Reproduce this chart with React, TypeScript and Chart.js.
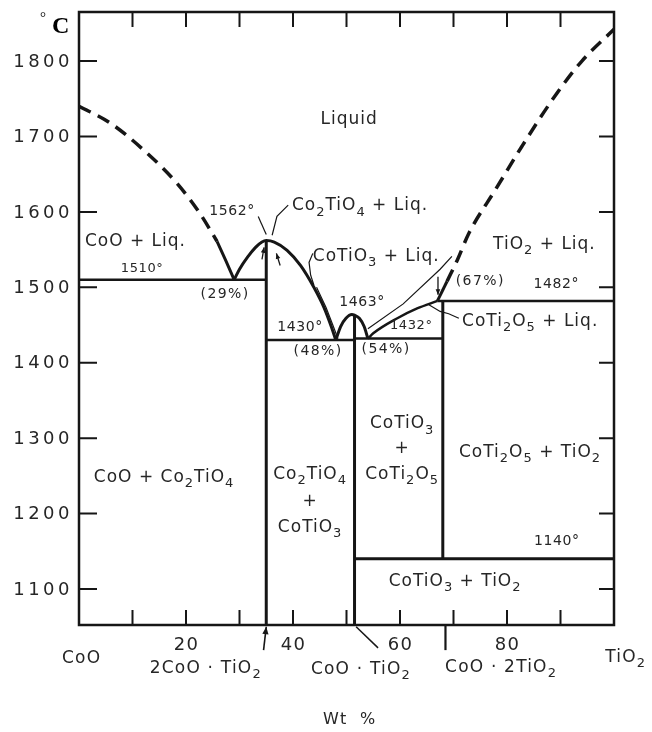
import React, { useEffect, useRef } from 'react';
import { Chart, registerables } from 'chart.js';
Chart.register(...registerables);

// ---- axes ----
const X_MIN = 0, X_MAX = 100, Y_MIN = 1052.3, Y_MAX = 1865;
const yTickValues = [1100, 1200, 1300, 1400, 1500, 1600, 1700, 1800];
const xTickValues = [10, 20, 30, 40, 50, 60, 70, 80, 90];
const xTickLabels: [number, string][] = [[20, '20'], [40, '40'], [60, '60'], [80, '80']];

// ---- phase boundaries [wt% TiO2, °C] ----
const coLiquidusDashed = [[0, 1740], [5.8, 1718], [12.7, 1678], [18.3, 1638], [22.6, 1598], [25.8, 1561]];
const coLiquidusSolid = [[25.8, 1561], [27.4, 1536], [29, 1510]];
const co2tio4Liquidus = [[29, 1510], [30, 1524], [31.5, 1540], [33, 1553], [34.2, 1560], [35, 1562], [36.5, 1560], [38.9, 1549], [41.4, 1529], [43.9, 1500], [45.8, 1473], [47.2, 1447], [48, 1430]];
const cotio3Liquidus = [[48, 1430], [48.9, 1448], [49.9, 1459], [51, 1464], [51.5, 1463], [52.4, 1459], [53.3, 1448], [54, 1432]];
const coti2o5Liquidus = [[54, 1432], [55, 1439], [59.5, 1459], [63.2, 1472], [67, 1482]];
const tio2LiquidusSolid = [[67, 1482], [68.8, 1508]];
const tio2LiquidusDashed = [[68.8, 1508], [70.7, 1536], [72.9, 1572], [77.8, 1629], [82.8, 1687], [89, 1754], [94, 1800], [100, 1842]];

const iso1510 = [[0, 1510], [35, 1510]];
const iso1430 = [[35, 1430], [51.5, 1430]];
const iso1432 = [[51.5, 1432], [68, 1432]];
const iso1482 = [[67, 1482], [100, 1482]];
const iso1140 = [[51.5, 1140], [100, 1140]];
const vertCo2TiO4 = [[35, Y_MIN], [35, 1562]];
const vertCoTiO3 = [[51.5, Y_MIN], [51.5, 1463]];
const vertCoTi2O5 = [[68, 1140], [68, 1482]];

// ---- leader lines ----
const leader1562 = [[33.5, 1594], [35, 1570]];
const leaderCo2TiO4 = [[39.1, 1609], [37, 1594], [36.1, 1569]];
const leaderCoTiO3Left = [[43.7, 1545], [43.0, 1533], [43.3, 1516], [43.9, 1503]];
const leaderCoTiO3Right = [[69.7, 1541], [67.5, 1524], [60.6, 1478], [54, 1445]];
const doubleLineLeft = [[44.4, 1500], [46.2, 1473], [47.6, 1447], [48.4, 1432]];
const leaderCoTi2O5 = [[65.4, 1477], [67.5, 1468], [69.1, 1465], [71, 1459]];
const arrowsThin = [[34.2, 1537, 34.6, 1553], [37.6, 1529, 36.9, 1545], [67.1, 1514, 67.1, 1490]];
const arrowsBelow = [[34.5, 1019, 35, 1050]];
const leadersBelow = [[[51.8, 1050], [55.9, 1022]], [[68.5, 1051], [68.5, 1019]]];

// ---- text ----
const regionLabels: [string, number, number, number, string][] = [
  ['Liquid', 50.5, 1724, 17, 'center'],
  ['CoO + Liq.', 1.1, 1563, 17, 'left'],
  ['TiO_2 + Liq.', 77.4, 1559, 17, 'left'],
  ['Co_2TiO_4 + Liq.', 39.8, 1610, 17, 'left'],
  ['CoTiO_3 + Liq.', 43.7, 1543, 17, 'left'],
  ['CoTi_2O_5 + Liq.', 71.6, 1457, 17, 'left'],
  ['CoO + Co_2TiO_4', 15.9, 1250, 17, 'center'],
  ['Co_2TiO_4', 43.2, 1254, 17, 'center'],
  ['+', 43.2, 1218, 17, 'center'],
  ['CoTiO_3', 43.2, 1184, 17, 'center'],
  ['CoTiO_3', 60.4, 1321, 17, 'center'],
  ['+', 60.4, 1288, 17, 'center'],
  ['CoTi_2O_5', 60.4, 1254, 17, 'center'],
  ['CoTi_2O_5 + TiO_2', 84.3, 1283, 17, 'center'],
  ['CoTiO_3 + TiO_2', 70.3, 1112, 17, 'center'],
];
const tempLabels: [string, number, number, number][] = [
  ['1510°', 11.8, 1526, 13],
  ['1562°', 28.6, 1602, 14],
  ['1430°', 41.3, 1449, 14],
  ['1463°', 52.9, 1482, 14],
  ['1432°', 62.1, 1451, 13],
  ['1482°', 89.2, 1506, 14],
  ['1140°', 89.3, 1165, 14],
];
const compLabels: [string, number, number][] = [
  ['(29%)', 27.3, 1492],
  ['(48%)', 44.7, 1417],
  ['(54%)', 57.4, 1420],
  ['(67%)', 75, 1510],
];
const axisNames: [string, number, number, number][] = [
  ['CoO', 0.5, 1010, 17],
  ['2CoO · TiO_2', 23.7, 997, 17],
  ['CoO · TiO_2', 52.7, 995, 17],
  ['CoO · 2TiO_2', 78.9, 998, 17],
  ['TiO_2', 102.2, 1012, 17],
  ['Wt  %', 50.6, 929, 16],
];
const X_LABEL_T = 1028;

const FONT = '"DejaVu Sans", sans-serif';
const INK = '#161616';
const TEXT = '#262626';

function drawRich(ctx: CanvasRenderingContext2D, text: string, x: number, y: number, size: number, align: string, spacing = 0.6) {
  const segs: { t: string; sub: boolean }[] = [];
  let cur = '';
  for (let i = 0; i < text.length; i++) {
    if (text[i] === '_') {
      if (cur) segs.push({ t: cur, sub: false });
      cur = '';
      segs.push({ t: text[i + 1], sub: true });
      i++;
    } else cur += text[i];
  }
  if (cur) segs.push({ t: cur, sub: false });
  const subSize = Math.round(size * 0.78);
  (ctx as any).letterSpacing = spacing + 'px';
  ctx.textAlign = 'left';
  ctx.textBaseline = 'alphabetic';
  let total = 0;
  const widths = segs.map((s) => {
    ctx.font = `${s.sub ? subSize : size}px ${FONT}`;
    const w = ctx.measureText(s.t).width;
    total += w;
    return w;
  });
  let cx = align === 'center' ? x - total / 2 : align === 'right' ? x - total : x;
  const base = y + size * 0.36;
  segs.forEach((s, k) => {
    ctx.font = `${s.sub ? subSize : size}px ${FONT}`;
    ctx.fillText(s.t, cx, s.sub ? base + size * 0.3 : base);
    cx += widths[k];
  });
  (ctx as any).letterSpacing = '0px';
}

const toPts = (a: number[][]) => a.map(([x, y]) => ({ x, y }));

const overlay = {
  id: 'overlay',
  beforeDraw(chart: any) {
    const c = chart.ctx;
    c.save();
    c.fillStyle = '#fff';
    c.fillRect(0, 0, chart.width, chart.height);
    c.restore();
  },
  afterDatasetsDraw(chart: any) {
    const c: CanvasRenderingContext2D = chart.ctx;
    const xs = chart.scales.x, ys = chart.scales.y;
    const { left, right, top, bottom } = chart.chartArea;
    const px = (v: number) => xs.getPixelForValue(v);
    const py = (v: number) => ys.getPixelForValue(v);
    c.save();
    // frame
    c.strokeStyle = INK;
    c.lineWidth = 2.5;
    c.strokeRect(left, top, right - left, bottom - top);
    // ticks
    c.lineWidth = 2;
    c.beginPath();
    yTickValues.forEach((v) => {
      const y = py(v);
      c.moveTo(left, y); c.lineTo(left + 18, y);
      c.moveTo(right, y); c.lineTo(right - 15, y);
    });
    xTickValues.forEach((v) => {
      const x = px(v);
      c.moveTo(x, top); c.lineTo(x, top + 15);
      c.moveTo(x, bottom); c.lineTo(x, bottom - 15);
    });
    c.stroke();
    // tick labels
    c.fillStyle = TEXT;
    yTickValues.forEach((v) => {
      (c as any).letterSpacing = '3.5px';
      c.font = `18px ${FONT}`;
      c.textAlign = 'right';
      c.textBaseline = 'middle';
      c.fillText(String(v), left - 6, py(v) + 1);
    });
    (c as any).letterSpacing = '0px';
    xTickLabels.forEach(([v, s]) => drawRich(c, s, px(v) + 0.6, py(X_LABEL_T), 18, 'center', 1.5));
    axisNames.forEach(([s, x, y, size]) => drawRich(c, s, px(x), py(y), size, 'center', 1.2));
    // °C
    c.font = `15px "Liberation Serif", serif`;
    c.textAlign = 'left';
    c.textBaseline = 'alphabetic';
    c.fillStyle = '#000';
    c.fillText('°', 40, 22);
    c.font = `bold 24px "Liberation Serif", serif`;
    c.fillText('C', 52, 33);
    // region labels
    c.fillStyle = TEXT;
    regionLabels.forEach(([s, x, y, size, al]) => drawRich(c, s, px(x), py(y), size, al, 1.0));
    tempLabels.forEach(([s, x, y, size]) => drawRich(c, s, px(x), py(y), size, 'center', 0.6));
    compLabels.forEach(([s, x, y]) => drawRich(c, s, px(x), py(y), 14, 'center', 1.4));
    // arrows
    const arrow = (x1: number, y1: number, x2: number, y2: number, w: number, head: number) => {
      c.lineWidth = w;
      c.beginPath();
      c.moveTo(x1, y1); c.lineTo(x2, y2); c.stroke();
      const a = Math.atan2(y2 - y1, x2 - x1);
      c.beginPath();
      c.moveTo(x2, y2);
      c.lineTo(x2 - head * Math.cos(a - 0.4), y2 - head * Math.sin(a - 0.4));
      c.lineTo(x2 - head * Math.cos(a + 0.4), y2 - head * Math.sin(a + 0.4));
      c.closePath();
      c.fill();
    };
    c.strokeStyle = INK;
    c.fillStyle = INK;
    arrowsThin.forEach(([a, b, d, e]) => arrow(px(a), py(b), px(d), py(e), 1.3, 6));
    arrowsBelow.forEach(([a, b, d, e]) => arrow(px(a), py(b), px(d), py(e), 1.6, 8));
    leadersBelow.forEach((seg, i) => {
      c.lineWidth = i === 1 ? 2.2 : 1.5;
      c.beginPath();
      c.moveTo(px(seg[0][0]), py(seg[0][1]));
      c.lineTo(px(seg[1][0]), py(seg[1][1]));
      c.stroke();
    });
    c.restore();
  },
};

export default function App() {
  const ref = useRef<HTMLCanvasElement>(null);
  useEffect(() => {
    if (!ref.current) return;
    const thick = (data: number[][], extra: any = {}) => ({
      data: toPts(data), showLine: true, pointRadius: 0, borderColor: INK, borderWidth: 3, fill: false, ...extra,
    });
    const thin = (data: number[][]) => ({
      data: toPts(data), showLine: true, pointRadius: 0, borderColor: INK, borderWidth: 1.2, fill: false,
    });
    const curve = { cubicInterpolationMode: 'monotone' };
    const chart = new Chart(ref.current, {
      type: 'scatter',
      data: {
        datasets: [
          thick(coLiquidusDashed, { ...curve, borderDash: [13, 8], borderWidth: 3.5 }),
          thick(coLiquidusSolid, curve),
          thick(co2tio4Liquidus, curve),
          thick(cotio3Liquidus, curve),
          thick(coti2o5Liquidus, { ...curve, borderWidth: 2.5 }),
          thick(tio2LiquidusSolid),
          thick(tio2LiquidusDashed, { ...curve, borderDash: [13, 8], borderWidth: 3.5 }),
          thick(iso1510, { borderWidth: 2.5 }),
          thick(iso1430, { borderWidth: 2.5 }),
          thick(iso1432, { borderWidth: 2.5 }),
          thick(iso1482, { borderWidth: 2.5 }),
          thick(iso1140, { borderWidth: 3 }),
          thick(vertCo2TiO4, { borderWidth: 3 }),
          thick(vertCoTiO3, { borderWidth: 3 }),
          thick(vertCoTi2O5, { borderWidth: 3 }),
          thin(leader1562),
          thin(leaderCo2TiO4),
          thin(leaderCoTiO3Left),
          thin(leaderCoTiO3Right),
          thin(doubleLineLeft),
          thin(leaderCoTi2O5),
        ] as any,
      },
      options: {
        animation: false,
        responsive: false,
        devicePixelRatio: 1,
        layout: { padding: { left: 79, right: 38, top: 12, bottom: 107 } },
        plugins: { legend: { display: false }, tooltip: { enabled: false }, title: { display: false } },
        scales: {
          x: { type: 'linear', min: X_MIN, max: X_MAX, display: false },
          y: { type: 'linear', min: Y_MIN, max: Y_MAX, display: false },
        },
        events: [],
      } as any,
      plugins: [overlay],
    });
    return () => chart.destroy();
  }, []);
  return (
    <div style={{ position: 'absolute', left: 0, top: 0, width: 652, height: 732, background: '#fff' }}>
      <canvas ref={ref} width={652} height={732} style={{ display: 'block', width: 652, height: 732 }} />
    </div>
  );
}
